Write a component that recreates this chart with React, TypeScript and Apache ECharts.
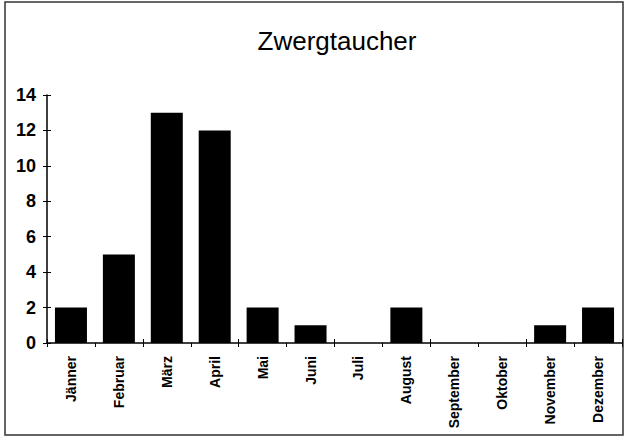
import React, { useEffect, useRef } from "react";
import * as echarts from "echarts";

const categories = ["Jänner", "Februar", "März", "April", "Mai", "Juni", "Juli", "August", "September", "Oktober", "November", "Dezember"];
const values = [2, 5, 13, 12, 2, 1, 0, 2, 0, 0, 1, 2];
const titleText = "Zwergtaucher";

export default function App() {
  const ref = useRef<HTMLDivElement>(null);
  useEffect(() => {
    if (!ref.current) return;
    const chart = echarts.init(ref.current, null, { renderer: "svg" });
    const font = "Liberation Sans, Arial, sans-serif";
    chart.setOption({
      animation: false,
      backgroundColor: "#ffffff",
      title: {
        text: titleText,
        left: 332,
        textAlign: "center",
        top: 23,
        textStyle: { fontFamily: font, fontSize: 26, fontWeight: "normal", color: "#000" },
      },
      grid: { left: 47, right: 5, top: 95, bottom: 96, containLabel: false },
      xAxis: [
        {
          type: "category",
          data: categories,
          axisLine: { lineStyle: { color: "#000", width: 1.5 } },
          axisTick: { show: true, length: 4, lineStyle: { color: "#000" } },
          axisLabel: { rotate: 90, fontFamily: font, fontSize: 14, fontWeight: "bold", color: "#000", margin: 13 },
        },
        {
          type: "category",
          data: categories,
          position: "bottom",
          axisLine: { show: false },
          axisTick: { show: true, inside: true, length: 4, lineStyle: { color: "#000" } },
          axisLabel: { show: false },
        },
      ],
      yAxis: [
        {
          type: "value",
          min: 0,
          max: 14,
          interval: 2,
          splitLine: { show: false },
          axisLine: { show: true, lineStyle: { color: "#000", width: 1.5 } },
          axisTick: { show: true, length: 4, lineStyle: { color: "#000" } },
          axisLabel: { fontFamily: font, fontSize: 18, fontWeight: "bold", color: "#000", margin: 11 },
        },
        {
          type: "value",
          min: 0,
          max: 14,
          interval: 2,
          position: "left",
          splitLine: { show: false },
          axisLine: { show: false },
          axisTick: { show: true, inside: true, length: 4, lineStyle: { color: "#000" } },
          axisLabel: { show: false },
        },
      ],
      graphic: [
        {
          type: "rect",
          shape: { x: 5, y: 2, width: 618, height: 433 },
          style: { fill: "none", stroke: "#333", lineWidth: 1.5 },
          silent: true,
        },
      ],
      series: [
        {
          type: "bar",
          data: values,
          barWidth: 32,
          itemStyle: { color: "#000" },
        },
      ],
    });
    return () => chart.dispose();
  }, []);
  return <div ref={ref} style={{ position: "fixed", left: 0, top: 0, width: 627, height: 439 }} />;
}
